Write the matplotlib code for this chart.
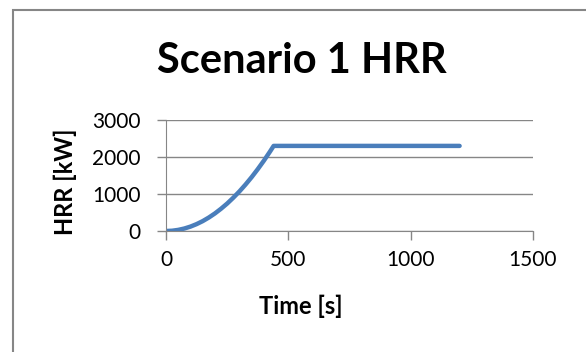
import matplotlib.pyplot as plt
from matplotlib.patches import Rectangle

# HRR curve (t-squared growth, then steady)
time_s = [0, 25, 50, 75, 100, 125, 150, 175, 200, 225, 250, 275, 300,
          325, 350, 375, 400, 425, 440, 1200]
hrr_kw = [0, 7, 30, 67, 119, 186, 267, 364, 475, 602, 742, 899, 1069,
          1255, 1455, 1671, 1900, 2146, 2300, 2300]

x_ticks = [0, 500, 1000, 1500]
y_ticks = [0, 1000, 2000, 3000]

plt.rcParams['font.family'] = ['Lato', 'DejaVu Sans']

fig = plt.figure(figsize=(5.86, 3.52), dpi=100)
W, H = 586, 352
# plot area in pixels: x 166..533, y 120..231 (from top)
ax = fig.add_axes([166 / W, 1 - 231 / H, (533 - 166) / W, (231 - 120) / H])

# outer chart border (only left and top edges fall inside the image)
fig.patches.append(Rectangle((13 / W, -0.1), 1.0, 1.1 - 9.5 / H,
                             transform=fig.transFigure, fill=False,
                             edgecolor='#868686', linewidth=1.5))

ax.plot(time_s, hrr_kw, color='#4a7ebb', linewidth=3.2, solid_capstyle='round')

ax.set_xlim(0, 1500)
ax.set_ylim(0, 3000)
ax.set_xticks(x_ticks)
ax.set_yticks(y_ticks)
ax.grid(axis='y', color='#868686', linewidth=1)
ax.set_axisbelow(True)
for s in ['top', 'right']:
    ax.spines[s].set_visible(False)
for s in ['left', 'bottom']:
    ax.spines[s].set_color('#868686')
ax.tick_params(axis='both', direction='out', length=6.5, color='#868686',
               labelsize=15, width=1)
ax.tick_params(axis='x', pad=7)
ax.tick_params(axis='y', pad=12)

fig.text(301 / W, 1 - 306 / H, 'Time [s]', ha='center', va='center',
         fontsize=17, fontweight='bold')
fig.text(65 / W, 1 - 182 / H, 'HRR [kW]', ha='center', va='center',
         rotation=90, fontsize=17, fontweight='bold')
fig.text(302 / W, 1 - 61 / H, 'Scenario 1 HRR', ha='center', va='center',
         fontsize=30, fontweight='bold')

fig.savefig('out.png', dpi=100)
